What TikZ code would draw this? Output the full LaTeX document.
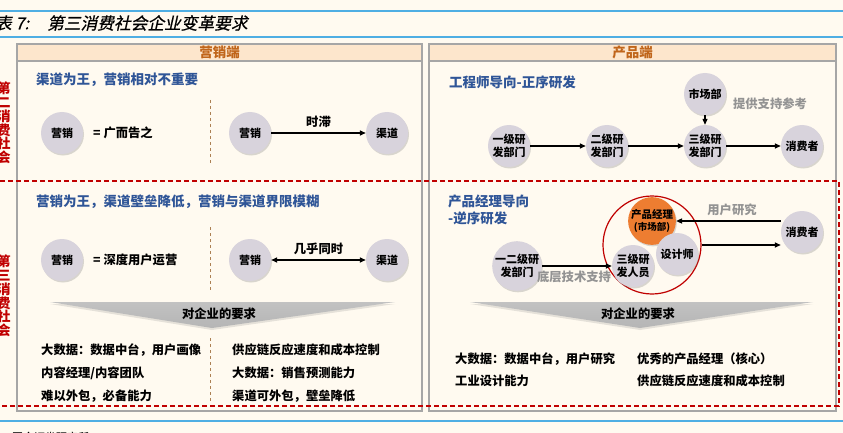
\documentclass[tikz,border=0pt]{standalone}
\usepackage{fontspec}
\setmainfont{Noto Sans CJK SC}
\newfontfamily\titlefont[FakeSlant=0.22,FakeBold=0.6]{Noto Sans CJK SC}
\usetikzlibrary{shadows,arrows.meta}
\definecolor{bg}{HTML}{FFFAF0}
\definecolor{ballc}{HTML}{D8D3DC}
\definecolor{headfill}{HTML}{FDE6CC}
\definecolor{headtext}{HTML}{C0651A}
\definecolor{headblue}{HTML}{2F5597}
\definecolor{redline}{HTML}{C00000}
\definecolor{skyline}{HTML}{4FAEE3}
\definecolor{panelgray}{HTML}{A6A6A6}
\definecolor{pmorange}{HTML}{ED7D31}

\begin{document}
\begin{tikzpicture}[x=1pt,y=-1pt,>={Triangle[length=6pt,width=5pt]}]
            \tikzstyle{ball}=[circle,fill=ballc,minimum size=42pt,inner sep=0pt,align=center,
              font=\bfseries\fontsize{11}{12.5}\selectfont,
              drop shadow={opacity=0.3,shadow xshift=1pt,shadow yshift=-1.5pt}]
            \tikzstyle{hd}=[anchor=west,inner sep=0pt,text=headblue,font=\bfseries\fontsize{13.5}{16}\selectfont]
            \tikzstyle{req}=[anchor=west,inner sep=0pt,font=\bfseries\fontsize{12.3}{14}\selectfont]
            \tikzstyle{note}=[inner sep=0pt,text=gray!85,font=\bfseries\fontsize{12.3}{14}\selectfont]
            \tikzstyle{lbl}=[inner sep=0pt,font=\bfseries\fontsize{12.3}{14}\selectfont]
            \tikzstyle{link}=[line width=1.5pt,->]
            \tikzstyle{sep}=[dashed,brown!70!gray,line width=1pt]
            \tikzstyle{reddash}=[redline,line width=1.3pt,dash pattern=on 5pt off 3pt]
            \tikzstyle{chev}=[top color=gray!48,bottom color=gray!58,drop shadow={opacity=0.2,shadow xshift=0pt,shadow yshift=-2pt}]
            \tikzstyle{vert}=[text=redline,align=center,inner sep=0pt,font=\bfseries\fontsize{13.5}{13.8}\selectfont]

            \useasboundingbox[fill=bg] (0,0) rectangle (843,433);

            % title and rules
            \draw[skyline,line width=1.5pt] (0,11) -- (843,11);
            \draw[skyline,line width=1.5pt] (0,37) -- (843,37);
            \draw[skyline,line width=1.5pt] (0,421) -- (843,421);
            \node[anchor=west,inner sep=0pt,font=\titlefont\fontsize{16.5}{18}\selectfont] (tnum) at (-5,23) {表 7:};
            \node[anchor=west,inner sep=0pt,font=\titlefont\fontsize{16.7}{18}\selectfont] (title) at (47,23) {第三消费社会企业变革要求};
            \node[anchor=west,inner sep=0pt,font=\fontsize{11}{12}\selectfont] (src) at (1,437) {：国金证券研究所};

            % panels
            \draw[panelgray,line width=1.5pt,fill=headfill] (17,44) rectangle (422,61);
            \draw[panelgray,line width=1.5pt] (17,61) rectangle (422,411);
            \draw[panelgray,line width=1.5pt,fill=headfill] (429,44) rectangle (836,61);
            \draw[panelgray,line width=1.5pt] (429,61) rectangle (836,411);
            \node[text=headtext,font=\bfseries\fontsize{13.5}{15}\selectfont] (mhead) at (219.5,52.5) {营销端};
            \node[text=headtext,font=\bfseries\fontsize{13.5}{15}\selectfont] (phead) at (632.5,52.5) {产品端};

            % society frames
            \draw[reddash] (0,181) -- (839,181) -- (839,406) -- (0,406);
            \node[vert] (soc2) at (4,123) {第\\二\\消\\费\\社\\会};
            \node[vert] (soc3) at (4,296) {第\\三\\消\\费\\社\\会};

            % marketing side, second society
            \node[hd] (h1) at (36,80) {渠道为王，营销相对不重要};
            \draw[sep] (210,100) -- (210,165);
            \node[ball] (m1) at (62,133) {营销};
            \node[lbl,anchor=west] (e1) at (93,133) {=\ 广而告之};
            \node[ball] (m2) at (250,133) {营销};
            \node[ball] (c2) at (387,133) {渠道};
            \draw[link] (m2) -- (c2) node[lbl,midway,above=5pt] (lag) {时滞};

            % marketing side, third society
            \node[hd] (h2) at (36,202) {营销为王，渠道壁垒降低，营销与渠道界限模糊};
            \draw[sep] (210,227) -- (210,290);
            \node[ball] (m3) at (62,260) {营销};
            \node[lbl,anchor=west] (e3) at (93,260) {=\ 深度用户运营};
            \node[ball] (m4) at (250,260) {营销};
            \node[ball] (c4) at (387,260) {渠道};
            \draw[link,<->] (m4) -- (c4) node[lbl,midway,above=5pt] (sync) {几乎同时};

            \path[chev] (50,302) -- (395,302) -- (212,328) -- cycle;
            \node[lbl] (askl) at (219,314) {对企业的要求};
            \draw[sep] (210,338) -- (210,402);
            \node[req] (l1) at (41,350) {大数据：数据中台，用户画像};
            \node[req] (l2) at (41,373) {内容经理/内容团队};
            \node[req] (l3) at (41,396) {难以外包，必备能力};
            \node[req] (r1) at (232,350) {供应链反应速度和成本控制};
            \node[req] (r2) at (232,373) {大数据：销售预测能力};
            \node[req] (r3) at (232,396) {渠道可外包，壁垒降低};

            % product side, second society
            \node[hd] (h3) at (449,82) {工程师导向-正序研发};
            \node[ball] (d1) at (509,146) {一级研\\发部门};
            \node[ball] (d2) at (607,146) {二级研\\发部门};
            \node[ball] (d3) at (705,146) {三级研\\发部门};
            \node[ball] (u1) at (802,146) {消费者};
            \node[ball] (mk) at (705,94) {市场部};
            \draw[link] (d1) -- (d2);
            \draw[link] (d2) -- (d3);
            \draw[link] (d3) -- (u1);
            \draw[link,line width=1.2pt] (mk) -- (d3);
            \node[note] (sup) at (770,104) {提供支持参考};

            % product side, third society
            \node[hd] (h4) at (448,201) {产品经理导向};
            \node[hd] (h5) at (448,218) {-逆序研发};
            \node[draw=redline,line width=1.2pt,circle,minimum size=98pt,inner sep=0pt] (core) at (652,245) {};
            \node[ball,fill=pmorange,font=\bfseries\fontsize{10.5}{12}\selectfont] (pm) at (652,221) {产品经理\\{\fontsize{9.5}{11}\selectfont(市场部)}};
            \node[ball] (ds) at (677,254) {设计师};
            \node[ball] (rd3) at (633,266) {三级研\\发人员};
            \node[ball] (rd12) at (517,266) {一二级研\\发部门};
            \node[ball] (u2) at (802,232) {消费者};
            \draw[link] (u2.west |- pm) -- (pm.east);
            \node[note] (res) at (732,210) {用户研究};
            \draw[link] (core.east) -- (core.east -| u2.west);
            \draw[link] (rd12.east) -- (rd3.west);
            \node[note] (base) at (574,277) {底层技术支持};

            \path[chev] (470,302) -- (813,302) -- (640,328) -- cycle;
            \node[lbl] (askr) at (638,314) {对企业的要求};
            \node[req] (p1) at (455,359) {大数据：数据中台，用户研究};
            \node[req] (p2) at (455,381) {工业设计能力};
            \node[req] (q1) at (637,359) {优秀的产品经理（核心）};
            \node[req] (q2) at (637,381) {供应链反应速度和成本控制};
        \end{tikzpicture}
\end{document}
